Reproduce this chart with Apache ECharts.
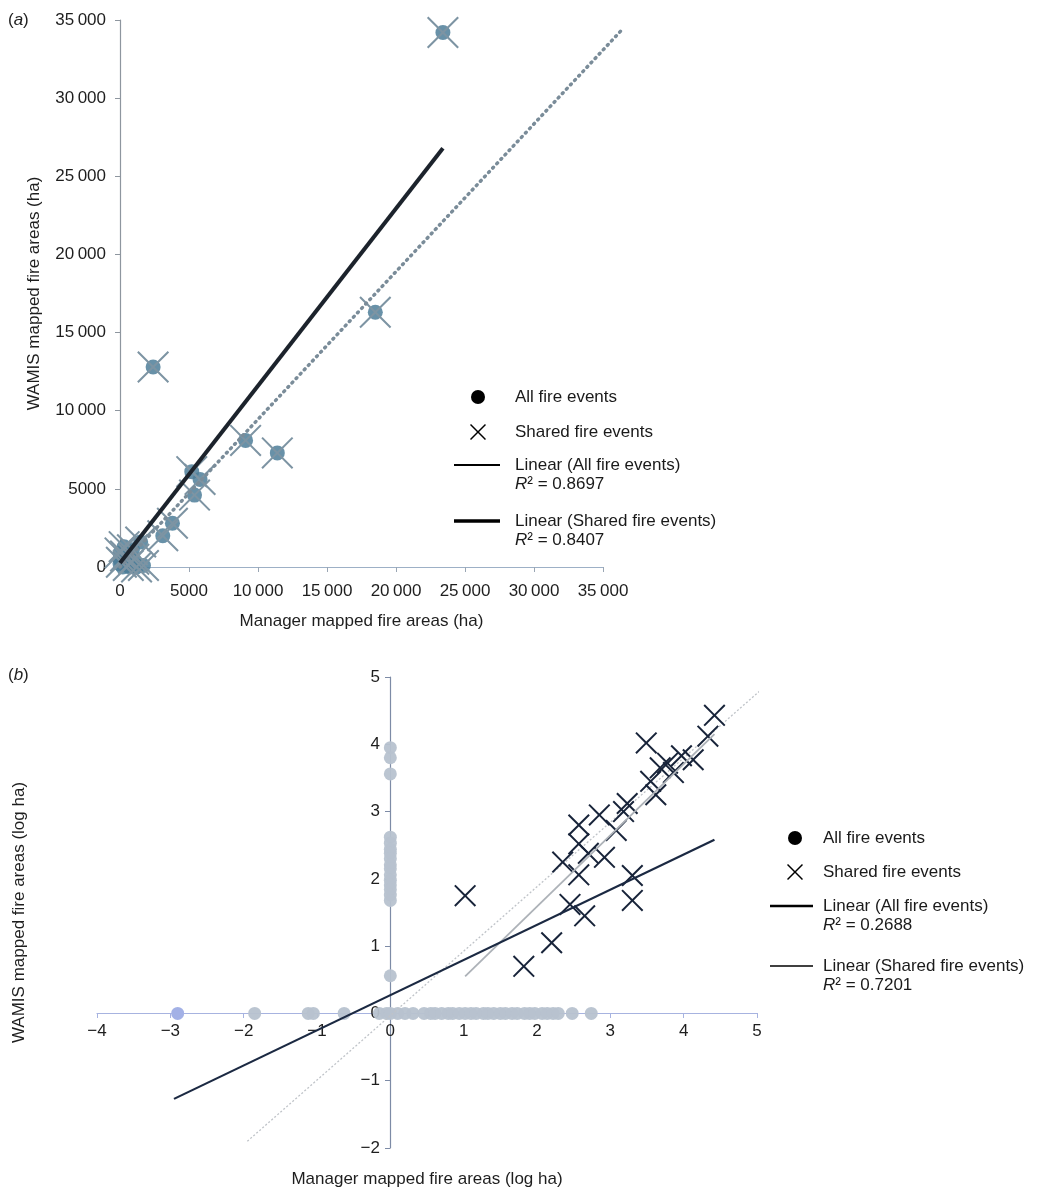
<!DOCTYPE html>
<html>
<head>
<meta charset="utf-8">
<script src="https://cdn.jsdelivr.net/npm/echarts@6/dist/echarts.min.js"></script>
<style>
html,body{margin:0;padding:0;background:#fff}
#chart{width:1064px;height:1193px}
</style>
</head>
<body>
<div id="chart"></div>
<script>
// ---- panel (a): mapped fire areas (ha) ----
var ticksA = [0, 5000, 10000, 15000, 20000, 25000, 30000, 35000];
// [manager, WAMIS] for fires mapped by both
var sharedA = [
    [23400, 34200], [18500, 16300], [2400, 12800], [9100, 8100], [11400, 7300],
    [5200, 6100], [5800, 5600], [5400, 4600], [3800, 2800], [3100, 2000],
    [1500, 1600], [900, 1100], [400, 700], [100, 300], [600, 100],
    [1200, 0], [1700, 100], [300, 1300], [0, 900], [1000, 500]
];
// remaining small events (all fire events only)
var otherA = [[0, 200], [200, 0], [0, 500], [700, 0], [300, 300]];
var trendAllA = [[0, 0], [36400, 34400]];
var trendSharedA = [[0, 250], [23400, 26800]];
var r2A = ['0.8697', '0.8407'];

// ---- panel (b): log ha ----
var ticksBx = [-4, -3, -2, -1, 0, 1, 2, 3, 4, 5];
var ticksBy = [-2, -1, 0, 1, 2, 3, 4, 5];
var sharedB = [
    [4.42, 4.43], [4.33, 4.12], [3.49, 4.02], [4.13, 3.77], [3.97, 3.83],
    [3.78, 3.72], [3.86, 3.58], [3.68, 3.65], [3.55, 3.45], [3.62, 3.25],
    [3.23, 3.12], [3.18, 3.0], [2.85, 2.95], [3.08, 2.72], [2.57, 2.8],
    [2.57, 2.52], [2.7, 2.38], [2.92, 2.32], [2.35, 2.25], [2.57, 2.06],
    [3.3, 2.05], [1.02, 1.75], [2.45, 1.62], [3.3, 1.68], [2.65, 1.45],
    [2.2, 1.05], [1.82, 0.7]
];
// events with manager area only (WAMIS log = 0) and WAMIS only (manager log = 0)
var managerOnlyB = [-2.9, -1.85, -1.12, -1.05, -0.63, -0.15, -0.05, 0.1, 0.2, 0.31,
    0.46, 0.55, 0.61, 0.7, 0.79, 0.85, 0.94, 1.02, 1.1, 1.17, 1.27, 1.33, 1.41, 1.5,
    1.57, 1.66, 1.73, 1.83, 1.9, 1.97, 2.07, 2.14, 2.22, 2.29, 2.48, 2.74];
var wamisOnlyB = [3.95, 3.8, 3.56, 2.62, 2.53, 2.44, 2.38, 2.3, 2.21, 2.15, 2.06,
    1.98, 1.91, 1.84, 1.76, 1.68, 0.56, 0];
var trendAllB = [[-2.95, -1.27], [4.42, 2.58]];
var trendSharedB = [[1.02, 0.55], [4.42, 4.15]];
var oneToOneB = [[-1.95, -1.9], [5.15, 4.9]];
var r2B = ['0.2688', '0.7201'];

var FONT = 'Liberation Sans, Arial, sans-serif';
var crossThin = 'path://M0,4.5L4.5,0L50,45.5L95.5,0L100,4.5L54.5,50L100,95.5L95.5,100L50,54.5L4.5,100L0,95.5L45.5,50Z';
var crossBold = 'path://M0,6.4L6.4,0L50,43.6L93.6,0L100,6.4L56.4,50L100,93.6L93.6,100L50,56.4L6.4,100L0,93.6L43.6,50Z';

function thin(v) {
    if (v >= 10000) return Math.floor(v / 1000) + '\u2009' + '000';
    return String(v);
}
function minus(v) {
    return String(v).replace('-', '\u2212');
}

var allB = managerOnlyB.map(function (x) {
    var p = { value: [x, 0] };
    if (x < -2.5) p.itemStyle = { color: '#a3b1e6', opacity: 1 };
    return p;
}).concat(wamisOnlyB.map(function (y) { return [0, y]; }));

// one legend per entry so every row sits where the original has it
function leg(name, icon, left, top, w, h, padL, r2) {
    return {
        selectedMode: false,
        orient: 'vertical',
        left: left,
        top: top,
        padding: 0,
        itemWidth: w,
        itemHeight: h,
        data: [{ name: name, icon: icon, itemStyle: { color: '#000', borderWidth: 0, opacity: 1 } }],
        formatter: function (n) {
            return r2 ? n + '\n{i|R}{n|\u00b2 = ' + r2 + '}' : n;
        },
        textStyle: {
            fontFamily: FONT,
            fontSize: 17,
            lineHeight: 19,
            color: '#1a1a1a',
            padding: [r2 ? 19 : 0, 0, 0, padL],
            rich: {
                i: { fontFamily: FONT, fontSize: 17, lineHeight: 19, fontStyle: 'italic', color: '#1a1a1a' },
                n: { fontFamily: FONT, fontSize: 17, lineHeight: 19, color: '#1a1a1a' }
            }
        }
    };
}

var axisText = { fontFamily: FONT, fontSize: 17, color: '#1e1e1e' };
var panelLabel = {
    fontFamily: FONT, fontSize: 17, fontWeight: 'normal', color: '#1e1e1e',
    rich: { i: { fontFamily: FONT, fontSize: 17, fontStyle: 'italic', color: '#1e1e1e' } }
};

var chart = echarts.init(document.getElementById('chart'));
chart.setOption({
    animation: false,
    backgroundColor: '#fff',
    title: [
        { text: '({i|a})', left: 8, top: 12, padding: 0, textStyle: panelLabel },
        { text: '({i|b})', left: 8, top: 667, padding: 0, textStyle: panelLabel }
    ],
    legend: [
        leg('All fire events', 'circle', 471, 387.5, 14, 14, 25),
        leg('Shared fire events', crossBold, 470, 422.5, 16, 16, 24),
        leg('Linear (All fire events)', 'path://M0,0H46V2H0Z', 454, 436.5, 46, 2, 10, r2A[0]),
        leg('Linear (Shared fire events)', 'path://M0,0H46V3.5H0Z', 454, 492.5, 46, 3.5, 10, r2A[1]),
        leg('All fire events', 'circle', 788, 828.5, 14, 14, 16),
        leg('Shared fire events', crossBold, 787, 862.5, 16, 16, 15),
        leg('Linear (All fire events)', 'path://M0,0H43V2.4H0Z', 770, 877.5, 43, 2.4, 5, r2B[0]),
        leg('Linear (Shared fire events)', 'path://M0,0H43V1.4H0Z', 770, 937.5, 43, 1.4, 5, r2B[1])
    ],
    grid: [
        { left: 120, top: 20, width: 483, height: 547, outerBoundsMode: 'none' },
        { left: 97, top: 677, width: 660, height: 471, outerBoundsMode: 'none' },
        // same scale as grid 0, only wider so the all-events trend can run past 35 000
        { left: 120, top: 20, width: 502.3, height: 547, outerBoundsMode: 'none' }
    ],
    xAxis: [
        {
            gridIndex: 0, type: 'value',
            min: ticksA[0], max: ticksA[ticksA.length - 1], interval: ticksA[1] - ticksA[0],
            name: 'Manager mapped fire areas (ha)', nameLocation: 'middle', nameGap: 46,
            nameTextStyle: axisText,
            axisLine: { show: true, onZero: false, lineStyle: { color: '#9db0c6', width: 1.2 } },
            axisTick: { show: true, length: 5, lineStyle: { color: '#9aa6b4' } },
            axisLabel: { margin: 16, formatter: thin, fontFamily: FONT, fontSize: 17, color: '#1e1e1e' },
            splitLine: { show: false }
        },
        {
            gridIndex: 1, type: 'value', position: 'bottom', offset: -135,
            min: ticksBx[0], max: ticksBx[ticksBx.length - 1], interval: ticksBx[1] - ticksBx[0],
            name: 'Manager mapped fire areas (log ha)', nameLocation: 'middle', nameGap: 158,
            nameTextStyle: axisText,
            axisLine: { show: true, onZero: false, lineStyle: { color: '#a7b3e0', width: 1.2 } },
            axisTick: { show: true, length: 5, lineStyle: { color: '#a7b3e0' } },
            axisLabel: { margin: 10, formatter: minus, fontFamily: FONT, fontSize: 17, color: '#1e1e1e' },
            splitLine: { show: false }
        },
        {
            gridIndex: 2, type: 'value', show: false,
            min: 0, max: trendAllA[1][0]
        }
    ],
    yAxis: [
        {
            gridIndex: 0, type: 'value',
            min: ticksA[0], max: ticksA[ticksA.length - 1], interval: ticksA[1] - ticksA[0],
            name: 'WAMIS mapped fire areas (ha)', nameLocation: 'middle', nameGap: 77,
            nameTextStyle: axisText,
            axisLine: { show: true, onZero: false, lineStyle: { color: '#8e969f', width: 1.2 } },
            axisTick: { show: true, length: 5, lineStyle: { color: '#8e969f' } },
            axisLabel: { margin: 14, formatter: thin, fontFamily: FONT, fontSize: 17, color: '#1e1e1e' },
            splitLine: { show: false }
        },
        {
            gridIndex: 1, type: 'value', position: 'left', offset: -293,
            min: ticksBy[0], max: ticksBy[ticksBy.length - 1], interval: ticksBy[1] - ticksBy[0],
            name: 'WAMIS mapped fire areas (log ha)', nameLocation: 'middle', nameGap: 362,
            nameTextStyle: axisText,
            axisLine: { show: true, onZero: false, lineStyle: { color: '#7d8ba6', width: 1.2 } },
            axisTick: { show: true, length: 5, lineStyle: { color: '#7d8ba6' } },
            axisLabel: { margin: 10, formatter: minus, fontFamily: FONT, fontSize: 17, color: '#1e1e1e' },
            splitLine: { show: false }
        },
        {
            gridIndex: 2, type: 'value', show: false,
            min: ticksA[0], max: ticksA[ticksA.length - 1]
        }
    ],
    series: [
        {
            name: 'All fire events', type: 'scatter', xAxisIndex: 0, yAxisIndex: 0,
            data: sharedA.concat(otherA), symbolSize: 15, z: 2,
            itemStyle: { color: '#4e7e99', opacity: 0.85 }
        },
        {
            name: 'Shared fire events', type: 'scatter', xAxisIndex: 0, yAxisIndex: 0,
            data: sharedA, symbol: crossThin, symbolSize: 32, z: 3,
            itemStyle: { color: '#7d94a3', opacity: 1 }
        },
        {
            name: 'Linear (All fire events)', type: 'line', xAxisIndex: 2, yAxisIndex: 2,
            data: trendAllA, symbol: 'none', clip: false, z: 4,
            lineStyle: { color: '#7a8c99', width: 3.5, type: [1, 5], cap: 'round' }
        },
        {
            name: 'Linear (Shared fire events)', type: 'line', xAxisIndex: 0, yAxisIndex: 0,
            data: trendSharedA, symbol: 'none', clip: false, z: 5,
            lineStyle: { color: '#1c232c', width: 4 }
        },
        {
            name: 'All fire events', type: 'scatter', xAxisIndex: 1, yAxisIndex: 1,
            data: allB, symbolSize: 13, z: 2,
            itemStyle: { color: '#b7c2cf', opacity: 0.95 }
        },
        {
            name: 'Shared fire events', type: 'scatter', xAxisIndex: 1, yAxisIndex: 1,
            data: sharedB, symbol: crossBold, symbolSize: 22, z: 3,
            itemStyle: { color: '#18243a', opacity: 1 }
        },
        {
            name: '1:1', type: 'line', xAxisIndex: 1, yAxisIndex: 1,
            data: oneToOneB, symbol: 'none', z: 3,
            lineStyle: { color: '#bfc3c8', width: 1.3, type: [2, 2] }
        },
        {
            name: 'Linear (Shared fire events)', type: 'line', xAxisIndex: 1, yAxisIndex: 1,
            data: trendSharedB, symbol: 'none', z: 4,
            lineStyle: { color: '#adb2b8', width: 1.8 }
        },
        {
            name: 'Linear (All fire events)', type: 'line', xAxisIndex: 1, yAxisIndex: 1,
            data: trendAllB, symbol: 'none', z: 5,
            lineStyle: { color: '#1b2942', width: 2.2 }
        }
    ]
});
window.addEventListener('resize', function () {
    chart.resize();
});
</script>
</body>
</html>
